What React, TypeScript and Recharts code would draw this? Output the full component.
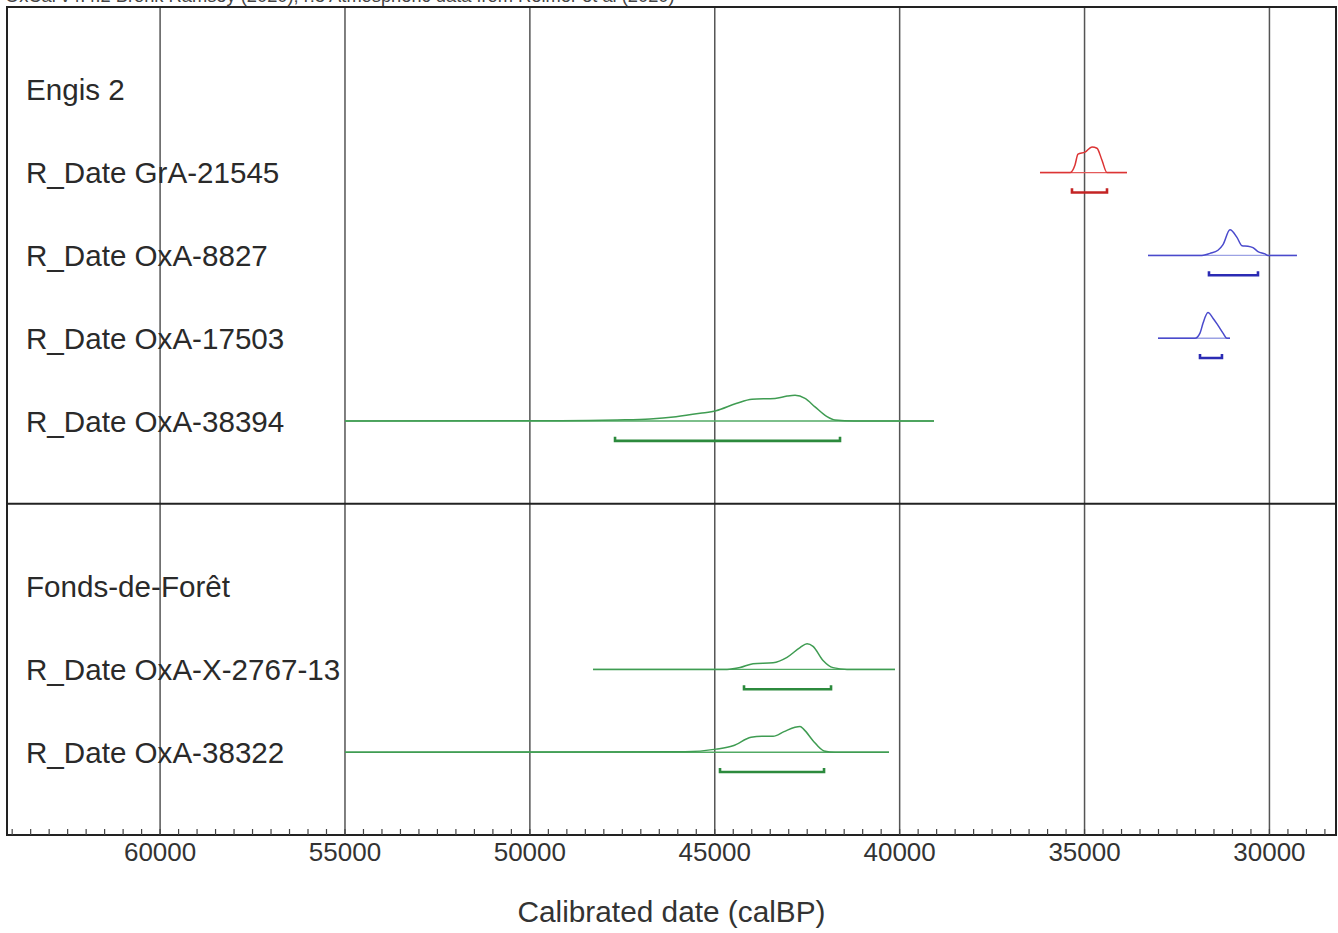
import React from 'react';
import { LineChart, Line, XAxis, YAxis, CartesianGrid, ReferenceLine, ReferenceArea } from 'recharts';

// ---------- texts ----------
const headerText = 'OxCal v4.4.2 Bronk Ramsey (2020); r:5 Atmospheric data from Reimer et al (2020)';
const axisTitle = 'Calibrated date (calBP)';

// ---------- rows (categories) ----------
const rowLabels = [
  'Engis 2',
  'R_Date GrA-21545',
  'R_Date OxA-8827',
  'R_Date OxA-17503',
  'R_Date OxA-38394',
  'Fonds-de-Forêt',
  'R_Date OxA-X-2767-13',
  'R_Date OxA-38322',
];
const rowPositions = [1, 2, 3, 4, 5, 7, 8, 9];
const sectionBreaks = [6];

// ---------- axis ----------
const majorTicks = [60000, 55000, 50000, 45000, 40000, 35000, 30000];
const xDomain: [number, number] = [28200, 64140];
const minorStep = 500;

// ---------- series: calibrated years (calBP) and relative probability ----------
const grA21545Years = [36205, 35394, 35258, 35177, 34988, 34799, 34664, 34528, 34393, 33852];
const grA21545Prob = [0, 0, 0.3, 0.72, 0.8, 1, 0.95, 0.48, 0, 0];
const grA21545Range = [35340, 34393];

const oxA8827Years = [33284, 31824, 31608, 31392, 31256, 31067, 30878, 30743, 30580, 30445, 30310, 30121, 30040, 29256];
const oxA8827Prob = [0, 0, 0.08, 0.2, 0.42, 1, 0.7, 0.38, 0.36, 0.3, 0.15, 0.06, 0, 0];
const oxA8827Range = [31635, 30310];

const oxA17503Years = [33014, 32014, 31878, 31797, 31662, 31527, 31392, 31256, 31148, 31067];
const oxA17503Prob = [0, 0, 0.2, 0.58, 1, 0.78, 0.5, 0.2, 0, 0];
const oxA17503Range = [31878, 31284];

const oxA38394Years = [55000, 49157, 47643, 46750, 46047, 45398, 44966, 44425, 43992, 43370, 43046, 42830, 42559, 42289, 41964, 41748, 41234, 39071];
const oxA38394Prob = [0, 0.01, 0.04, 0.08, 0.17, 0.3, 0.4, 0.68, 0.85, 0.88, 0.97, 1, 0.88, 0.55, 0.17, 0.04, 0, 0];
const oxA38394Range = [47697, 41613];

const oxAX276713Years = [48292, 44668, 44317, 43965, 43424, 43046, 42694, 42505, 42343, 42072, 41802, 41424, 40126];
const oxAX276713Prob = [0, 0, 0.07, 0.22, 0.26, 0.47, 0.85, 1, 0.9, 0.35, 0.07, 0, 0];
const oxAX276713Range = [44209, 41856];

const oxA38322Years = [55000, 45804, 44966, 44506, 44019, 43722, 43424, 43127, 42830, 42694, 42586, 42343, 42045, 41748, 40288];
const oxA38322Prob = [0, 0.02, 0.12, 0.25, 0.58, 0.62, 0.62, 0.8, 0.97, 1, 0.88, 0.45, 0.05, 0, 0];
const oxA38322Range = [44858, 42045];

type Sample = { id: string; row: number; years: number[]; prob: number[]; range: number[]; palette: string };

const samples: Sample[] = [
  { id: 'GrA-21545', row: 2, years: grA21545Years, prob: grA21545Prob, range: grA21545Range, palette: 'red' },
  { id: 'OxA-8827', row: 3, years: oxA8827Years, prob: oxA8827Prob, range: oxA8827Range, palette: 'blue' },
  { id: 'OxA-17503', row: 4, years: oxA17503Years, prob: oxA17503Prob, range: oxA17503Range, palette: 'blue' },
  { id: 'OxA-38394', row: 5, years: oxA38394Years, prob: oxA38394Prob, range: oxA38394Range, palette: 'green' },
  { id: 'OxA-X-2767-13', row: 8, years: oxAX276713Years, prob: oxAX276713Prob, range: oxAX276713Range, palette: 'green' },
  { id: 'OxA-38322', row: 9, years: oxA38322Years, prob: oxA38322Prob, range: oxA38322Range, palette: 'green' },
];

const palettes: Record<string, { base: string; curve: string; bracket: string }> = {
  red: { base: '#e45a5a', curve: '#dc3434', bracket: '#c42424' },
  blue: { base: '#9ca2e4', curve: '#4a4acc', bracket: '#2b2bb4' },
  green: { base: '#52aa64', curve: '#3f9c52', bracket: '#2c8a3d' },
};

const PEAK = 0.31;
const BRACKET_DROP = 0.24;
const BRACKET_TICK = 0.05;
const FONT = '"Liberation Sans", Arial, Helvetica, sans-serif';

const minorTicks: number[] = [];
for (let v = Math.ceil(xDomain[0] / minorStep) * minorStep; v <= xDomain[1]; v += minorStep) minorTicks.push(v);

const RowTick = (props: any) => {
  const { x, y, payload } = props;
  const idx = rowPositions.indexOf(payload.value);
  return (
    <text x={x} y={y} dy="0.36em" textAnchor="start" fontSize={29.6} fill="#2a2a2a" fontFamily={FONT}>
      {rowLabels[idx]}
    </text>
  );
};

const EmptyTick = () => <g />;

export default function App() {
  return (
    <div style={{ position: 'absolute', left: 0, top: 0, width: 1338, height: 933, background: '#fff', overflow: 'hidden' }}>
      <div
        style={{
          position: 'absolute',
          left: 5,
          top: -13,
          fontFamily: FONT,
          fontSize: 18.3,
          lineHeight: '18.3px',
          color: '#444',
          whiteSpace: 'nowrap',
        }}
      >
        {headerText}
      </div>
      <LineChart
        width={1338}
        height={933}
        margin={{ top: 7, right: 2, left: 7, bottom: 38 }}
        style={{ fontFamily: FONT }}
      >
        <CartesianGrid horizontal={false} stroke="#555" strokeWidth={1.5} />
        <XAxis
          type="number"
          dataKey="x"
          domain={xDomain}
          reversed
          allowDataOverflow
          ticks={majorTicks}
          interval={0}
          height={60}
          tickLine={false}
          tickSize={0}
          tickMargin={8}
          axisLine={{ stroke: '#222', strokeWidth: 2 }}
          tick={{ fontSize: 26, fill: '#333', fontFamily: FONT }}
          label={{ value: axisTitle, position: 'bottom', offset: 6, fontSize: 29.8, fill: '#333', fontFamily: FONT }}
        />
        <XAxis
          xAxisId="minor"
          type="number"
          dataKey="x"
          domain={xDomain}
          reversed
          allowDataOverflow
          ticks={minorTicks}
          interval={0}
          mirror
          tick={<EmptyTick />}
          tickSize={6}
          axisLine={false}
          tickLine={{ stroke: '#444', strokeWidth: 1.2 }}
        />
        <YAxis
          type="number"
          domain={[0, 10]}
          reversed
          allowDataOverflow
          ticks={rowPositions}
          interval={0}
          mirror
          axisLine={false}
          tickLine={false}
          tickSize={0}
          tickMargin={19}
          tick={<RowTick />}
        />
        <ReferenceArea x1={xDomain[1]} x2={xDomain[0]} y1={0} y2={10} fill="none" fillOpacity={0} stroke="#222" strokeWidth={2} />
        {sectionBreaks.map((b) => (
          <ReferenceLine key={'sep' + b} y={b} stroke="#222" strokeWidth={2} />
        ))}
        {samples.map((s) => {
          const p = palettes[s.palette];
          const baseline = [
            { x: s.years[0], y: s.row },
            { x: s.years[s.years.length - 1], y: s.row },
          ];
          const curve = s.years.map((x, i) => ({ x, y: s.row - s.prob[i] * PEAK }));
          const bracket = [
            { x: s.range[0], y: s.row + BRACKET_DROP - BRACKET_TICK },
            { x: s.range[0], y: s.row + BRACKET_DROP },
            { x: s.range[1], y: s.row + BRACKET_DROP },
            { x: s.range[1], y: s.row + BRACKET_DROP - BRACKET_TICK },
          ];
          return [
            <Line key={s.id + '-base'} data={baseline} dataKey="y" type="linear" stroke={p.base} strokeWidth={1.4} dot={false} activeDot={false} isAnimationActive={false} />,
            <Line key={s.id + '-curve'} data={curve} dataKey="y" type="monotone" stroke={p.curve} strokeWidth={1.5} dot={false} activeDot={false} isAnimationActive={false} />,
            <Line key={s.id + '-range'} data={bracket} dataKey="y" type="linear" stroke={p.bracket} strokeWidth={2.6} dot={false} activeDot={false} isAnimationActive={false} />,
          ];
        })}
      </LineChart>
    </div>
  );
}
